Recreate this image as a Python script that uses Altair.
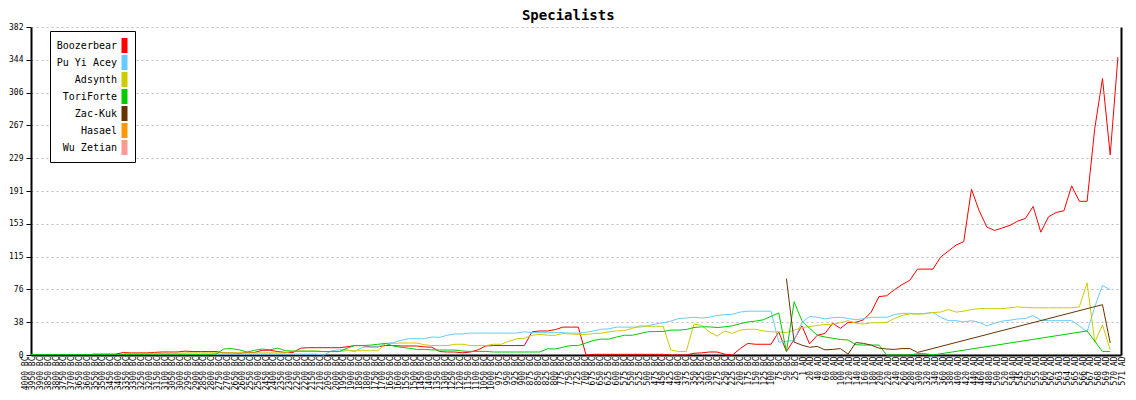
import altair as alt
import pandas as pd

# ---------------- data ----------------
bc_years = [4000, 3950, 3900, 3850, 3800, 3750, 3700, 3650, 3600, 3550, 3500, 3450, 3400,
            3350, 3300, 3250, 3200, 3150, 3100, 3050, 3000, 2950, 2900, 2850, 2800, 2750,
            2700, 2650, 2600, 2550, 2500, 2450, 2400, 2350, 2300, 2250, 2200, 2150, 2100,
            2050, 2000, 1950, 1900, 1850, 1800, 1750, 1700, 1650, 1600, 1550, 1500, 1450,
            1400, 1350, 1300, 1250, 1200, 1150, 1100, 1050, 1000, 975, 950, 925, 900, 875,
            850, 825, 800, 775, 750, 725, 700, 675, 650, 625, 600, 575, 550, 525, 500, 475,
            450, 425, 400, 375, 350, 325, 300, 275, 250, 225, 200, 175, 150, 125, 100, 75,
            50, 25]
ad_years = [1, 20, 40, 60, 80, 100, 120, 140, 160, 180, 200, 220, 240, 260, 280, 300, 320,
            340, 360, 380, 400, 420, 440, 460, 480, 500, 520, 540, 545, 550, 555, 560, 562,
            563, 564, 565, 566, 567, 568, 569, 570, 571]
categories = [f"{y} BC" for y in bc_years] + [f"{y} AD" for y in ad_years]

series_names = ["Boozerbear", "Pu Yi Acey", "Adsynth", "ToriForte", "Zac-Kuk", "Hasael", "Wu Zetian"]
series_colors = ["#ff0000", "#66ccff", "#cccc00", "#00cc00", "#663300", "#ff9900", "#ff9999"]

y_ticks = [0, 38.2, 76.4, 114.6, 152.8, 191, 229.2, 267.4, 305.6, 343.8, 382]

N = None
boozerbear = [N, N, N, N, N, N, N, N, 1, 1,
              1, 1, 3, 2.5, 2.5, 2.5, 3, 3.5, 3.5, 3.5,
              4.5, 4, 4, 4, 4, 2.5, 2.5, 2, 3, 3,
              5.5, 5.5, 4, 3, 3, 8, 8.5, 8.5, 8.5, 8.5,
              8.5, 9.5, 11, 11, 9.5, 9.5, 11, 11, 10.5, 10.5,
              10.5, 9.5, 9, 4, 3.5, 3.5, 2.5, 3.5, 6, 10.5,
              11, 11, 11, 11, 11, 27, 28, 28, 29.5, 32.5,
              32.5, 32.5, 0, 0.8, 0.8, 0.8, 0.8, 0.8, 0.8, 0.8,
              0.8, 0.8, 0.8, 0, 0, 0, 2, 2.5, 3.5, 3.5,
              1, 0, 7.5, 13.5, 12.5, 12.5, 12.5, 27, 4, 18,
              34, 13, 23, 25, 37, 31, 38, 38, 41, 50,
              68, 69, 76, 82, 87, 100, 100, 100, 114, 121,
              128, 132, 193, 168, 149, 145, 148, 151, 156, 159,
              173, 143, 161, 166, 168, 197, 179, 179, 264, 322,
              233, 347]
pu_yi_acey = [N, N, N, N, N, N, N, N, N, N,
              N, N, 1.5, 1.5, 1.5, 1.5, 0.5, 0.5, 0.5, 0.5,
              0.5, 0.5, 0.5, 0.5, 1, 1, 1, 1, 1, 1,
              1, 1, 1, 1, 1, 1, 1, 1, 0, 5,
              6, 6, 4, 9, 9.5, 9.5, 13.5, 14.5, 17, 19,
              19, 19, 21, 20.5, 23, 24.5, 24.5, 25.5, 25.5, 25.5,
              25.5, 25.5, 25.5, 25.5, 27, 26, 26, 26, 26, 26,
              25.5, 25.5, 26.5, 28, 30, 30.5, 32.5, 32.5, 32.5, 32.5,
              34, 36, 37.5, 39.5, 42.5, 43, 44, 43, 44, 46,
              47, 47.5, 50, 51, 51, 51, 51, 15, 16, 17,
              38, 45, 44, 42, 43.5, 44, 42.5, 41, 42.5, 44,
              44, 44, 47, 48.5, 48.5, 48, 48.5, 49.5, 44, 40,
              40, 38.5, 40, 38, 34, 37, 39.5, 40.5, 42, 42.5,
              46, 40.5, 40, 40, 40, 40, 34, 27, 56, 81,
              76, N]
adsynth = [N, N, N, N, N, N, N, N, N, N,
           N, N, 2, 2, 2, 2, 2, 2, 2, 2,
           2.5, 2.5, 2.5, 2.5, 2.5, 2.5, 2.5, 2.5, 2.5, 2.5,
           2.5, 2.5, 2.5, 2.5, 4.5, 4.5, 4.5, 4.5, 4, 4,
           4, 5, 5, 5, 5, 5, 13.5, 13.5, 14, 14,
           14, 12, 11, 11, 11, 12.5, 12.5, 11, 11, 11,
           12.5, 12.5, 16, 19, 19.5, 23, 24, 23, 23, 25,
           24.5, 24, 24, 25, 25.5, 27, 28, 28.5, 31, 34,
           33.5, 33.5, 33.5, 6, 4, 4, 36, 34.5, 27, 22,
           28, 25, 29, 30, 30, 28, 27, 27, 26, 29,
           32, 33, 34.5, 35.5, 36, 37.5, 40, 37, 36, 37.5,
           37.5, 38, 42.5, 46, 48, 47.5, 48, 49.5, 50, 53,
           50, 51, 53, 54, 54, 54, 54, 55, 56, 55.5,
           55, 55, 55, 55, 55, 55, 56, 84, 15, 35,
           6, N]
toriforte = [0.5, 0.5, 0.5, 0.5, 0.5, 0.5, 0.5, 0.5, 0.5, 0.5,
             0.5, 0.5, 0.8, 0.8, 0.8, 0.8, 0.8, 0.8, 0.8, 0.8,
             0.8, 0.8, 0.8, 0.8, 1, 7, 7.5, 6, 3.5, 5.5,
             7, 6, 8, 5, 4.5, 4.5, 4.5, 4.5, 4, 4,
             4, 8, 11, 11, 11.5, 12.5, 13.5, 10.5, 9, 8,
             6.5, 6.5, 6, 5.8, 5.8, 5.8, 4.6, 4.2, 4.2, 4.2,
             3.5, 3.5, 3.5, 3.5, 3.5, 3.5, 3.5, 7.3, 7, 9,
             11, 11, 14, 17, 18.5, 18.5, 21, 23, 23, 25,
             27, 27.4, 27.4, 29, 29, 29.7, 32, 32.8, 32.8, 32,
             32.8, 34, 36.5, 38.5, 39.5, 41, 45, 49, 4, 62,
             40, 31, 23, 21, 19.5, 18, 17.5, 12, 11.6, 11.6,
             11.6, 0, 0, 0, 0, 1.5, 1.5, 0, N, N,
             N, N, N, N, N, N, N, N, N, N,
             N, N, N, N, N, N, N, 28, 16, 4,
             4, N]
zac_kuk = [N] * 98 + [89, 15,
           11.5, 9, 10, 6, 6.5, 7.5, 1, 14.5, 13.5, 11.5,
           8, 7, 6.5, 7.5, 7.5, 3] + [N] * 23 + [58.6, 14, N]
hasael = []
wu_zetian = []

all_series = [boozerbear, pu_yi_acey, adsynth, toriforte, zac_kuk, hasael, wu_zetian]

rows = []
for name, vals in zip(series_names, all_series):
    for i, v in enumerate(vals):
        if v is not None:
            rows.append({"idx": i, "series": name, "value": v})
df = pd.DataFrame(rows)
cat_df = pd.DataFrame({"cat": categories, "zero": [0] * len(categories)})

# ---------------- chart ----------------
MONO = "DejaVu Sans Mono"

legend = alt.Legend(
    title=None, orient="none", legendX=19, legendY=4, direction="vertical",
    labelFont=MONO, labelFontSize=10, labelColor="black", labelAlign="right",
    labelOffset=alt.ExprRef("-15"), symbolType="M-0.4,-1H0.4V1H-0.4Z", symbolSize=225,
    symbolOffset=60, symbolStrokeWidth=0,
    symbolFillColor=alt.ExprRef("scale('color', datum.value)"),
    symbolOpacity=1,
    strokeColor="black", fillColor="white", padding=7, rowPadding=2,
    cornerRadius=0,
)

lines = alt.Chart(df).mark_line(strokeWidth=1).encode(
    x=alt.X("idx:Q", scale=alt.Scale(domain=[0, 141.4], nice=False, zero=False),
            axis=alt.Axis(orient="bottom", labels=False, ticks=False, grid=False,
                          domainColor="black", domainWidth=2, title=None)),
    y=alt.Y("value:Q", scale=alt.Scale(domain=[0, 382], nice=False),
            axis=alt.Axis(orient="left", values=y_ticks, format=".0f", grid=True,
                          gridColor="#bdbdbd", gridDash=[2, 3], gridWidth=1, tickSize=5,
                          tickColor="black", tickWidth=1, domainColor="black", domainWidth=2,
                          labelFont=MONO, labelFontSize=8, labelColor="black",
                          labelPadding=3, title=None)),
    color=alt.Color("series:N", scale=alt.Scale(domain=series_names, range=series_colors),
                    legend=legend),
)

xlab = alt.Chart(cat_df).mark_point(opacity=0, size=1).encode(
    x=alt.X("cat:N", scale=alt.Scale(type="point", domain=categories, range=[-6, 1091], padding=0),
            axis=alt.Axis(orient="bottom", labelAngle=270, labelAlign="right",
                          labelBaseline="middle", labelFont=MONO, labelFontSize=8,
                          labelColor="black", labelPadding=1, labelOverlap=False,
                          ticks=False, domain=False, title=None)),
    y=alt.Y("zero:Q", scale=alt.Scale(domain=[0, 382], nice=False),
            axis=alt.Axis(orient="right", labels=False, ticks=False, grid=False,
                          domainColor="black", domainWidth=2, title=None)),
)

chart = alt.layer(lines, xlab).resolve_scale(x="independent", y="independent").properties(
    width=1090, height=328,
    title=alt.Title("Specialists", font=MONO, fontSize=14, fontWeight="bold",
                    anchor="middle", frame="bounds", offset=0, color="black"),
    padding={"left": 0, "top": 1, "right": 0, "bottom": 0},
).configure_view(stroke=None)

chart.save("out.html", embed_options={"renderer": "svg", "actions": False})
